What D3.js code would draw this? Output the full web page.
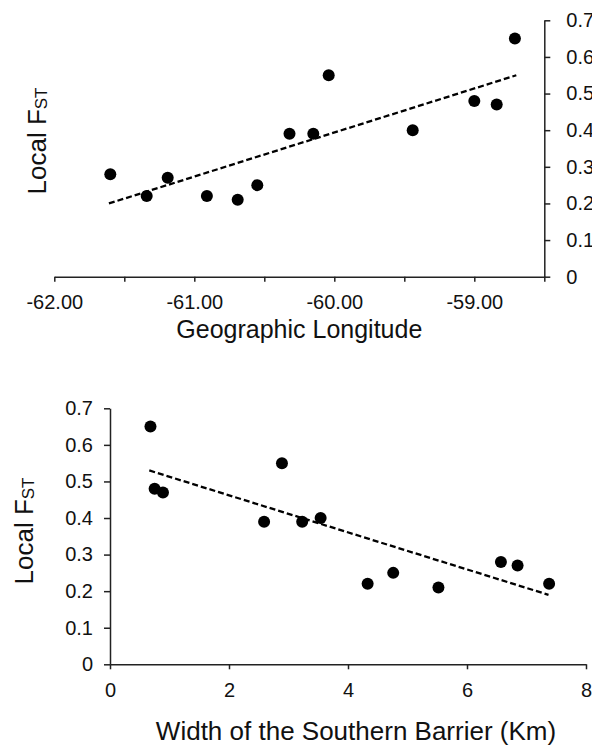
<!DOCTYPE html>
<html>
<head>
<meta charset="utf-8">
<script src="https://cdn.jsdelivr.net/npm/d3@7"></script>
<style>
  html, body { margin: 0; padding: 0; background: #fff; }
  svg { display: block; font-family: "Liberation Sans", Arial, sans-serif; }
</style>
</head>
<body>
<svg id="chart" width="592" height="745"></svg>
<script>
// ---- Data ----
// Top panel: geographic longitude vs local FST
const lonValues = [-61.60, -61.34, -61.19, -60.91, -60.69, -60.55, -60.32, -60.15, -60.04, -59.44, -59.00, -58.84, -58.71];
const lonFst    = [0.28, 0.22, 0.27, 0.22, 0.21, 0.25, 0.39, 0.39, 0.55, 0.40, 0.48, 0.47, 0.65];
const lonTrendX = [-61.61, -58.70];
const lonTrendY = [0.20, 0.55];
const lonTickValues = [-62, -61.5, -61, -60.5, -60, -59.5, -59, -58.5];
const lonTickLabels = {"-62": "-62.00", "-61": "-61.00", "-60": "-60.00", "-59": "-59.00"};

// Bottom panel: width of the southern barrier vs local FST
const widthValues = [0.68, 0.75, 0.89, 2.59, 2.89, 3.23, 3.54, 4.33, 4.76, 5.52, 6.57, 6.85, 7.38];
const widthFst    = [0.65, 0.48, 0.47, 0.39, 0.55, 0.39, 0.40, 0.22, 0.25, 0.21, 0.28, 0.27, 0.22];
const widthTrendX = [0.66, 7.37];
const widthTrendY = [0.53, 0.19];
const widthTickValues = [0, 2, 4, 6, 8];

const fstTickValues = [0, 0.1, 0.2, 0.3, 0.4, 0.5, 0.6, 0.7];
const fstTickLabels = ["0", "0.1", "0.2", "0.3", "0.4", "0.5", "0.6", "0.7"];

const xTitleTop = "Geographic Longitude";
const xTitleBottom = "Width of the Southern Barrier (Km)";

// ---- Drawing ----
const svg = d3.select("#chart");
const ink = "#000";
const axisColor = "#222";

function styleAxis(g) {
  g.select(".domain").attr("stroke", axisColor).attr("stroke-width", 1.5);
  g.selectAll(".tick line").attr("stroke", axisColor).attr("stroke-width", 1.5);
  g.selectAll(".tick text").attr("fill", "#111").style("font-size", "20px")
    .style("font-family", '"Liberation Sans", Arial, sans-serif');
}

function yTitle(x, y) {
  const t = svg.append("text")
    .attr("transform", `translate(${x},${y}) rotate(-90)`)
    .attr("text-anchor", "middle")
    .attr("fill", "#111")
    .style("font-size", "26px");
  t.append("tspan").text("Local F");
  t.append("tspan").text("ST").style("font-size", "17px").attr("dy", 1);
}

// ----- Top panel -----
{
  const x = d3.scaleLinear().domain([-62, -58.5]).range([54.3, 544.3]);
  const y = d3.scaleLinear().domain([0, 0.7]).range([276.7, 20.3]);

  const gx = svg.append("g").attr("transform", `translate(0,${y(0)})`)
    .call(d3.axisBottom(x).tickValues(lonTickValues)
      .tickFormat(d => lonTickLabels[String(d)] || "")
      .tickSize(5).tickSizeOuter(0).tickPadding(13));
  styleAxis(gx);

  const gy = svg.append("g").attr("transform", `translate(${x(-58.5)},0)`)
    .call(d3.axisRight(y).tickValues(fstTickValues)
      .tickFormat((d, i) => fstTickLabels[i])
      .tickSize(6).tickSizeOuter(0).tickPadding(16));
  styleAxis(gy);

  const line = d3.line().x(d => x(d[0])).y(d => y(d[1]));
  svg.append("path")
    .datum(d3.zip(lonTrendX, lonTrendY))
    .attr("d", line)
    .attr("fill", "none").attr("stroke", ink).attr("stroke-width", 2.3)
    .attr("stroke-dasharray", "6,3");

  svg.append("g").selectAll("circle")
    .data(d3.zip(lonValues, lonFst))
    .join("circle")
    .attr("cx", d => x(d[0])).attr("cy", d => y(d[1]))
    .attr("r", 6).attr("fill", ink);

  svg.append("text")
    .attr("x", (x(-62) + x(-58.5)) / 2).attr("y", 338)
    .attr("text-anchor", "middle").attr("fill", "#111")
    .style("font-size", "25px").text(xTitleTop);

  yTitle(46, 141);
}

// ----- Bottom panel -----
{
  const x = d3.scaleLinear().domain([0, 8]).range([110, 586]);
  const y = d3.scaleLinear().domain([0, 0.7]).range([664.3, 408.3]);

  const gx = svg.append("g").attr("transform", `translate(0,${y(0)})`)
    .call(d3.axisBottom(x).tickValues(widthTickValues)
      .tickFormat(d3.format("d"))
      .tickSize(5).tickSizeOuter(0).tickPadding(13.5));
  styleAxis(gx);

  const gy = svg.append("g").attr("transform", `translate(${x(0)},0)`)
    .call(d3.axisLeft(y).tickValues(fstTickValues)
      .tickFormat((d, i) => fstTickLabels[i])
      .tickSize(6).tickSizeOuter(0).tickPadding(11));
  styleAxis(gy);

  const line = d3.line().x(d => x(d[0])).y(d => y(d[1]));
  svg.append("path")
    .datum(d3.zip(widthTrendX, widthTrendY))
    .attr("d", line)
    .attr("fill", "none").attr("stroke", ink).attr("stroke-width", 2.3)
    .attr("stroke-dasharray", "6,3");

  svg.append("g").selectAll("circle")
    .data(d3.zip(widthValues, widthFst))
    .join("circle")
    .attr("cx", d => x(d[0])).attr("cy", d => y(d[1]))
    .attr("r", 6).attr("fill", ink);

  svg.append("text")
    .attr("x", 356).attr("y", 740)
    .attr("text-anchor", "middle").attr("fill", "#111")
    .style("font-size", "26px").text(xTitleBottom);

  yTitle(33, 531);
}
</script>
</body>
</html>
